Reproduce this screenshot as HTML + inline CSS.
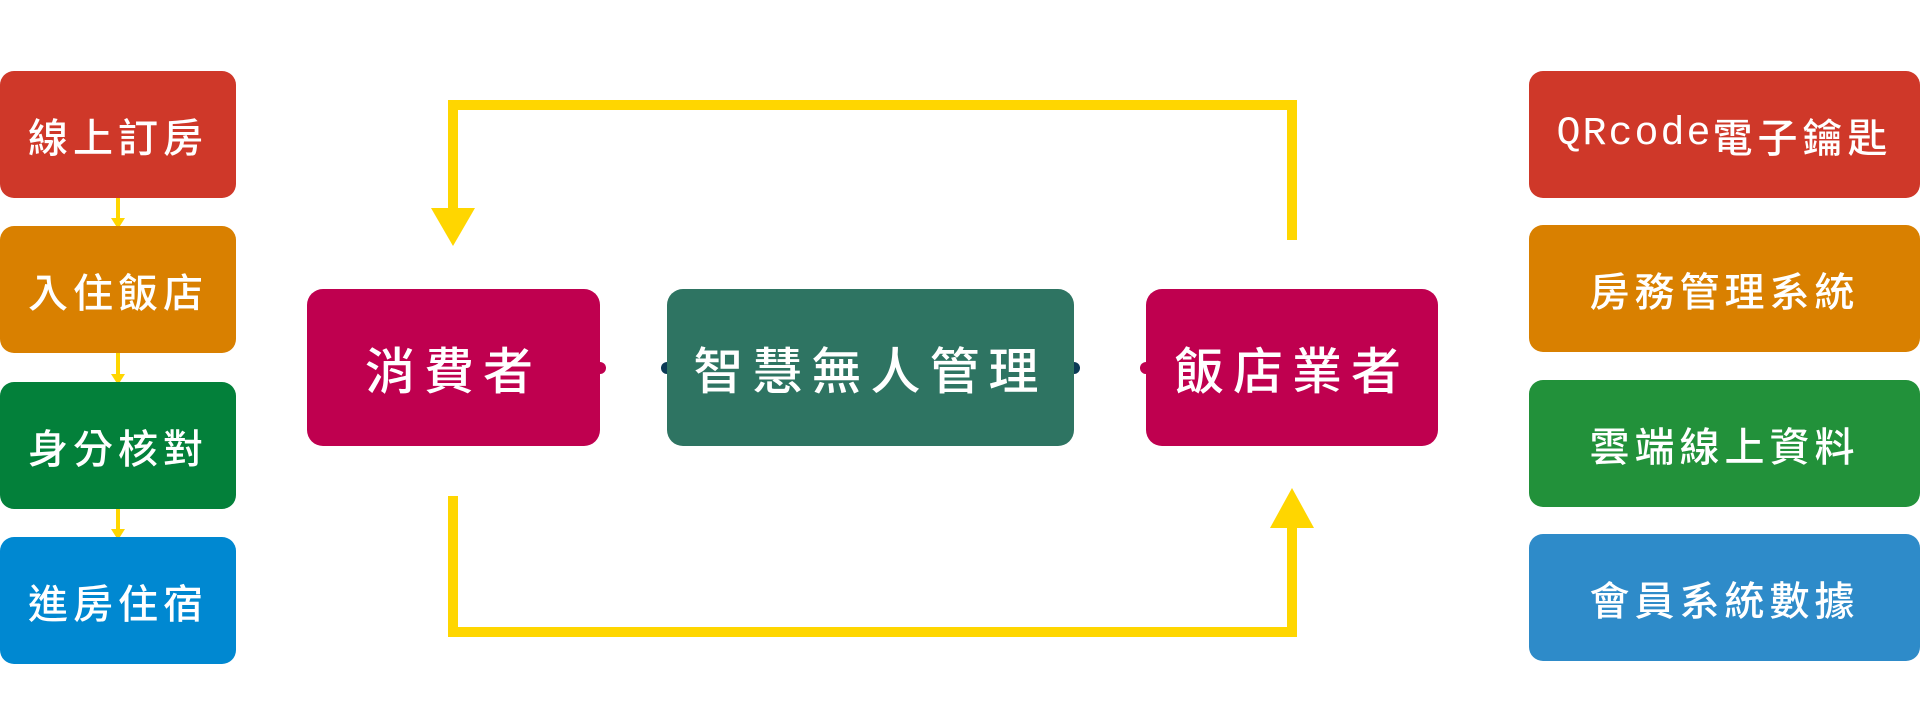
<!DOCTYPE html>
<html><head><meta charset="utf-8"><style>
html,body{margin:0;padding:0;background:#fff}
body{width:1920px;height:726px;position:relative;overflow:hidden;font-family:"Liberation Sans","Noto Sans CJK TC",sans-serif}
.b{position:absolute;display:flex;align-items:center;justify-content:center;color:#fff;border-radius:14px;font-size:40px;letter-spacing:5px;white-space:nowrap;font-weight:500}
.c{font-size:50px;letter-spacing:9px;border-radius:16px}
.m{font-family:"Liberation Mono",monospace;letter-spacing:2px;font-weight:400}
</style></head><body>
<svg width="1920" height="726" style="position:absolute;left:0;top:0">
<g fill="none" stroke="#ffd600" stroke-width="10">
<polyline points="1292,240 1292,105 453,105 453,210"/>
<polyline points="453,496 453,632 1292,632 1292,525"/>
</g>
<polygon points="431,208 475,208 453,246" fill="#ffd600"/>
<polygon points="1270,528 1314,528 1292,488" fill="#ffd600"/>
<g stroke="#ffd600" stroke-width="4">
<line x1="118" y1="186" x2="118" y2="220"/>
<line x1="118" y1="343" x2="118" y2="376"/>
<line x1="118" y1="498" x2="118" y2="531"/>
</g>
<g fill="#ffd600">
<polygon points="111,218 125,218 118,229"/>
<polygon points="111,374 125,374 118,385"/>
<polygon points="111,529 125,529 118,540"/>
</g>
<circle cx="600" cy="368" r="6" fill="#bf004f"/>
<circle cx="667" cy="368" r="6" fill="#0b3a55"/>
<circle cx="1074" cy="368" r="6" fill="#0b3a55"/>
<circle cx="1146" cy="368" r="6" fill="#bf004f"/>
</svg>
<div class="b" style="left:0;top:71px;width:236px;height:127px;background:#cf3829">線上訂房</div>
<div class="b" style="left:0;top:226px;width:236px;height:127px;background:#d98000">入住飯店</div>
<div class="b" style="left:0;top:382px;width:236px;height:127px;background:#03803a">身分核對</div>
<div class="b" style="left:0;top:537px;width:236px;height:127px;background:#0088d1">進房住宿</div>
<div class="b" style="left:1529px;top:71px;width:391px;height:127px;background:#cf3829"><span class="m">QRcode</span>電子鑰匙</div>
<div class="b" style="left:1529px;top:225px;width:391px;height:127px;background:#d98000">房務管理系統</div>
<div class="b" style="left:1529px;top:380px;width:391px;height:127px;background:#22913a">雲端線上資料</div>
<div class="b" style="left:1529px;top:534px;width:391px;height:127px;background:#2e8bc9">會員系統數據</div>
<div class="b c" style="left:307px;top:289px;width:293px;height:157px;background:#bf004f">消費者</div>
<div class="b c" style="left:667px;top:289px;width:407px;height:157px;background:#2e7462">智慧無人管理</div>
<div class="b c" style="left:1146px;top:289px;width:292px;height:157px;background:#bf004f">飯店業者</div>
</body></html>
